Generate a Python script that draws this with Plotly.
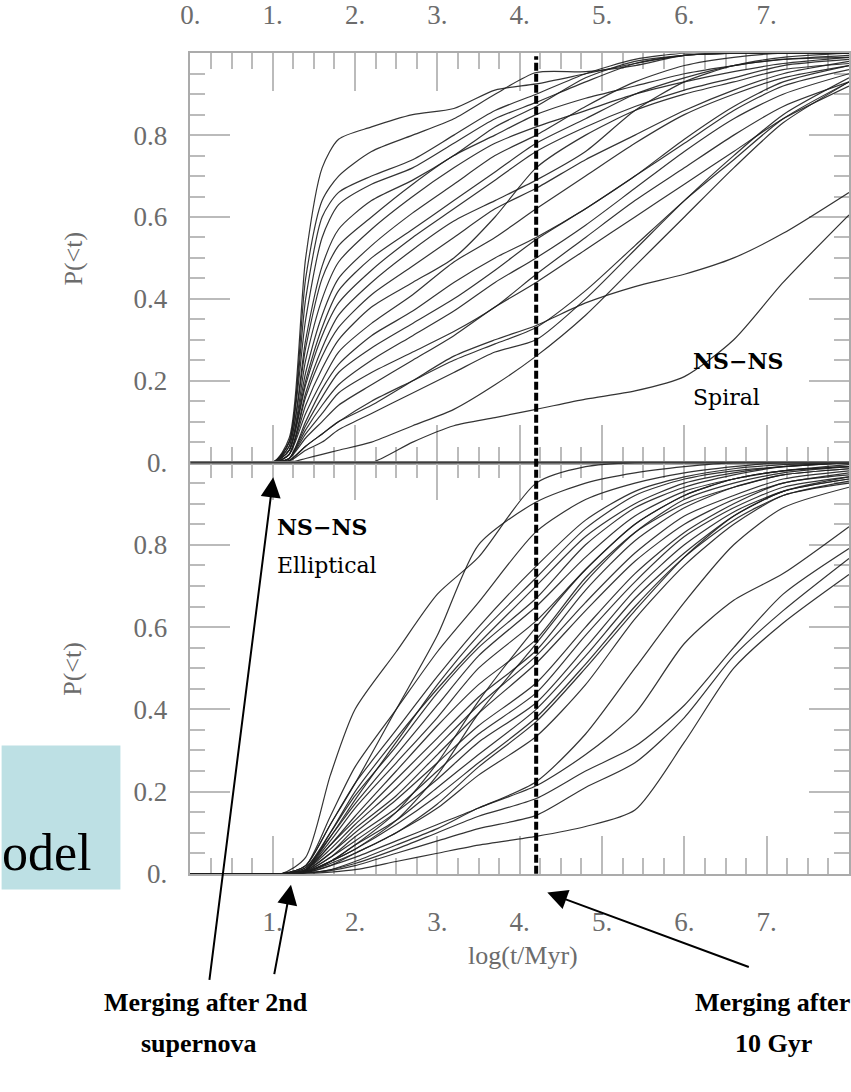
import plotly.graph_objects as go

W, H = 851, 1092

# ---------------------------------------------------------------- data
# cumulative merger-time distributions P(<t) vs log(t/Myr)
x_top = [0, 1.0, 1.2, 1.4, 1.6, 1.8, 2.2, 2.7, 3.2, 3.7, 4.2, 4.8, 5.4, 6.0, 6.6, 7.2, 8.0]
spiral_curves = [
    [0, 0, .06, .50, .72, .79, .82, .85, .865, .91, .925, .95, .975, .995, 1, 1, 1],
    [0, 0, .05, .45, .64, .70, .76, .80, .84, .90, .953, .955, .97, .995, 1, 1, 1],
    [0, 0, .05, .40, .60, .66, .70, .74, .80, .86, .90, .95, .985, 1, 1, 1, 1],
    [0, 0, .05, .35, .55, .63, .68, .72, .78, .84, .88, .93, .975, .995, 1, 1, 1],
    [0, 0, .04, .30, .48, .57, .64, .69, .75, .82, .87, .94, .98, .995, 1, 1, 1],
    [0, 0, .04, .28, .45, .53, .60, .68, .75, .80, .85, .89, .92, .95, .97, .985, .99],
    [0, 0, .03, .25, .40, .49, .57, .65, .72, .78, .82, .86, .90, .93, .955, .975, .99],
    [0, 0, .03, .22, .36, .45, .53, .61, .68, .75, .80, .87, .93, .97, .99, 1, 1],
    [0, 0, .03, .20, .33, .42, .50, .57, .64, .71, .78, .84, .90, .94, .97, .985, .995],
    [0, 0, .03, .19, .31, .39, .47, .55, .62, .69, .76, .82, .87, .91, .94, .97, .985],
    [0, 0, .02, .17, .28, .36, .44, .52, .59, .64, .69, .76, .86, .93, .97, .99, 1],
    [0, 0, .02, .16, .26, .33, .41, .48, .55, .62, .67, .74, .80, .86, .91, .95, .98],
    [0, 0, .02, .14, .23, .30, .38, .44, .50, .60, .72, .80, .86, .90, .93, .96, .975],
    [0, 0, .02, .12, .20, .27, .34, .41, .49, .55, .62, .70, .78, .85, .90, .94, .97],
    [0, 0, .01, .10, .18, .24, .31, .37, .44, .50, .55, .62, .70, .78, .86, .92, .96],
    [0, 0, .01, .09, .16, .22, .28, .34, .40, .47, .545, .62, .70, .79, .87, .93, .97],
    [0, 0, .01, .08, .14, .19, .25, .31, .37, .44, .50, .58, .67, .76, .84, .90, .95],
    [0, 0, .01, .07, .12, .17, .22, .27, .32, .38, .46, .55, .64, .72, .80, .87, .93],
    [0, 0, .01, .06, .10, .14, .19, .25, .31, .38, .44, .52, .60, .68, .76, .84, .92],
    [0, 0, .005, .04, .07, .10, .14, .20, .26, .30, .335, .39, .43, .46, .50, .56, .66],
    [0, 0, .005, .04, .07, .10, .15, .20, .25, .29, .33, .42, .53, .64, .74, .84, .93],
    [0, 0, .003, .03, .05, .08, .12, .17, .22, .27, .30, .40, .52, .64, .75, .85, .94],
    [0, 0, 0, .01, .02, .03, .05, .09, .13, .19, .26, .36, .48, .60, .72, .83, .93],
    [0, 0, 0, 0, 0, 0, 0, .05, .09, .11, .13, .155, .175, .21, .30, .44, .605],
]

x_bottom = [0, 1.1, 1.4, 1.7, 2.0, 2.5, 3.0, 3.5, 4.2, 4.8, 5.4, 6.0, 6.6, 7.2, 8.0]
elliptical_curves = [
    [0, 0, .04, .24, .40, .54, .68, .77, .95, .99, 1, 1, 1, 1, 1],
    [0, 0, .02, .12, .22, .40, .58, .80, .904, .95, .975, .99, 1, 1, 1],
    [0, 0, .02, .14, .26, .40, .54, .66, .832, .91, .95, .975, .99, 1, 1],
    [0, 0, .02, .12, .22, .35, .48, .60, .748, .86, .93, .965, .985, .995, 1],
    [0, 0, .015, .10, .19, .31, .44, .55, .67, .80, .89, .94, .97, .99, 1],
    [0, 0, .015, .09, .17, .29, .41, .53, .65, .77, .87, .93, .96, .98, .995],
    [0, 0, .01, .08, .16, .27, .38, .50, .615, .74, .85, .92, .96, .98, .99],
    [0, 0, .01, .07, .14, .25, .36, .46, .57, .72, .83, .90, .94, .97, .985],
    [0, 0, .01, .07, .13, .23, .33, .43, .543, .69, .81, .89, .94, .97, .985],
    [0, 0, .01, .06, .12, .21, .31, .41, .53, .66, .78, .87, .92, .96, .98],
    [0, 0, .008, .05, .11, .19, .29, .39, .512, .64, .76, .85, .91, .95, .975],
    [0, 0, .008, .05, .10, .18, .27, .36, .464, .60, .73, .83, .90, .95, .97],
    [0, 0, .006, .04, .09, .16, .25, .34, .44, .58, .71, .82, .89, .94, .965],
    [0, 0, .006, .04, .08, .15, .23, .32, .416, .55, .69, .80, .88, .93, .96],
    [0, 0, .005, .03, .07, .13, .21, .29, .40, .53, .67, .78, .87, .93, .96],
    [0, 0, .005, .03, .06, .12, .19, .27, .38, .51, .65, .77, .86, .92, .955],
    [0, 0, .004, .025, .05, .10, .16, .24, .334, .46, .62, .75, .85, .92, .95],
    [0, 0, .004, .03, .07, .15, .27, .42, .60, .74, .85, .92, .96, .98, .99],
    [0, 0, .004, .03, .06, .13, .24, .39, .56, .71, .83, .91, .95, .975, .99],
    [0, 0, .003, .02, .05, .10, .17, .26, .37, .50, .64, .77, .87, .93, .965],
    [0, 0, .003, .02, .04, .08, .12, .16, .224, .34, .50, .66, .80, .89, .94],
    [0, 0, .002, .01, .03, .07, .11, .16, .214, .29, .39, .56, .665, .73, .844],
    [0, 0, .002, .01, .025, .06, .10, .14, .183, .25, .31, .41, .55, .68, .791],
    [0, 0, .002, .008, .02, .05, .08, .11, .142, .21, .27, .38, .53, .64, .767],
    [0, 0, 0, .004, .01, .03, .05, .07, .091, .115, .155, .32, .50, .61, .728],
    [0, 0, .01, .10, .20, .33, .45, .56, .70, .82, .90, .95, .975, .99, 1],
    [0, 0, .01, .09, .18, .32, .46, .58, .72, .84, .92, .96, .98, .99, 1],
]

x_ticks_top = [0, 1, 2, 3, 4, 5, 6, 7, 8]
x_labels_top = ["0.", "1.", "2.", "3.", "4.", "5.", "6.", "7.", "8."]
x_ticks_bottom = [1, 2, 3, 4, 5, 6, 7, 8]
x_labels_bottom = ["1.", "2.", "3.", "4.", "5.", "6.", "7.", "8."]
y_ticks = [0, 0.2, 0.4, 0.6, 0.8]
y_labels = ["0.", "0.2", "0.4", "0.6", "0.8"]
hubble_time_log = 4.2   # log(t/Myr) of the 10 Gyr marker

# ---------------------------------------------------------------- layout helpers
def fx(p):
    return p / W


def fy(p):
    return 1 - p / H


LEFT = 183
TOP, MID, BOT = 54, 469, 886

TICK_FONT = dict(family="Liberation Serif", size=27, color="#6c6c6c")
CURVE = dict(color="rgba(30,30,30,0.9)", width=1.2, shape="spline", smoothing=0.7)

fig = go.Figure()
for c in spiral_curves:
    fig.add_trace(go.Scatter(x=x_top, y=c, mode="lines", line=CURVE,
                             xaxis="x", yaxis="y", hoverinfo="skip", showlegend=False))
for c in elliptical_curves:
    fig.add_trace(go.Scatter(x=x_bottom, y=c, mode="lines", line=CURVE,
                             xaxis="x2", yaxis="y2", hoverinfo="skip", showlegend=False))

axis_style = dict(
    showline=True, linecolor="#ababab", linewidth=1.5, mirror="allticks",
    ticks="inside", tickcolor="#bbbbbb", tickwidth=1.5,
    showgrid=False, zeroline=False, layer="below traces", tickfont=TICK_FONT,
)
x_minor = dict(tickmode="linear", tick0=0, dtick=0.25, ticklen=16, ticks="inside",
               tickcolor="#bbbbbb", tickwidth=1.5, showgrid=False)
y_minor = dict(tickmode="linear", tick0=0, dtick=0.05, ticklen=15, ticks="inside",
               tickcolor="#bbbbbb", tickwidth=1.5, showgrid=False)

fig.update_layout(
    width=W, height=H, margin=dict(l=0, r=0, t=0, b=0),
    paper_bgcolor="white", plot_bgcolor="white", showlegend=False,
    xaxis=dict(axis_style, domain=[fx(LEFT), 1], range=[0, 8], anchor="y", side="top",
               tickmode="array", tickvals=x_ticks_top, ticktext=x_labels_top,
               ticklen=38, minor=x_minor, ticklabelstandoff=17),
    yaxis=dict(axis_style, domain=[fy(MID), fy(TOP)], range=[0, 1], anchor="x",
               tickmode="array", tickvals=y_ticks, ticktext=y_labels,
               ticklen=40, minor=y_minor, ticklabelstandoff=16),
    xaxis2=dict(axis_style, domain=[fx(LEFT), 1], range=[0, 8], anchor="y2", side="bottom",
                tickmode="array", tickvals=x_ticks_bottom, ticktext=x_labels_bottom,
                ticklen=38, minor=x_minor, ticklabelstandoff=23),
    yaxis2=dict(axis_style, domain=[fy(BOT), fy(MID)], range=[0, 1], anchor="x2",
                tickmode="array", tickvals=y_ticks, ticktext=y_labels,
                ticklen=40, minor=y_minor, ticklabelstandoff=16),
)

# slide background box at the left edge
fig.add_shape(type="rect", xref="paper", yref="paper",
              x0=-0.01, x1=fx(112), y0=fy(902), y1=fy(756),
              fillcolor="#bde0e4", line=dict(width=0), layer="below")
# shared boundary between the two panels
fig.add_shape(type="line", xref="paper", yref="paper",
              x0=fx(LEFT), x1=1, y0=fy(MID), y1=fy(MID),
              line=dict(color="#3c3c3c", width=2))
# 10 Gyr marker
fig.add_shape(type="line", xref="x", yref="paper",
              x0=hubble_time_log, x1=hubble_time_log, y0=fy(BOT), y1=fy(TOP + 3),
              line=dict(color="black", width=4, dash="8px,3px"))

ann = []
axis_title = dict(family="Liberation Serif", size=26, color="#6c6c6c")
ann.append(dict(text="P(<t)", x=fx(64), y=fy(262), textangle=-90, font=axis_title))
ann.append(dict(text="P(<t)", x=fx(64), y=fy(678), textangle=-90, font=axis_title))
ann.append(dict(text="log(t/Myr)", x=fx(520), y=fy(969), font=axis_title))

label_bold = dict(family="DejaVu Serif", size=22, color="black")
label_reg = dict(family="DejaVu Serif", size=22, color="black")
ann.append(dict(text="<b>NS\u2212NS</b>", x=fx(691), y=fy(366), xanchor="left", font=label_bold))
ann.append(dict(text="Spiral", x=fx(691), y=fy(403), xanchor="left", font=label_reg))
ann.append(dict(text="<b>NS\u2212NS</b>", x=fx(269), y=fy(534), xanchor="left", font=label_bold))
ann.append(dict(text="Elliptical", x=fx(269), y=fy(573), xanchor="left", font=label_reg))

# partly visible slide caption at the left edge
ann.append(dict(text="odel", x=fx(-10), y=fy(864), xanchor="left",
                font=dict(family="Liberation Serif", size=52, color="black")))

slide_font = dict(family="Liberation Serif", size=26, color="black")
ann.append(dict(text="<b>Merging after 2nd</b>", x=fx(199), y=fy(1016), font=slide_font))
ann.append(dict(text="<b>supernova</b>", x=fx(192), y=fy(1058), font=slide_font))
ann.append(dict(text="<b>Merging after</b>", x=fx(773), y=fy(1016), font=slide_font))
ann.append(dict(text="<b>10 Gyr</b>", x=fx(774), y=fy(1058), font=slide_font))

for a in ann:
    a.update(xref="paper", yref="paper", showarrow=False)
    a.setdefault("xanchor", "center")
    a.setdefault("yanchor", "middle")

# arrows: (tip, tail) in page pixels
arrows = [((267, 484), (203, 988)), ((285, 897), (268, 988)), ((545, 905), (748, 980))]
for (tx, ty), (sx, sy) in arrows:
    ann.append(dict(text="", xref="paper", yref="paper", x=fx(tx), y=fy(ty),
                    ax=sx - tx, ay=sy - ty, showarrow=True, arrowhead=2,
                    arrowsize=2.0, arrowwidth=2, arrowcolor="black"))

fig.update_layout(annotations=ann)
fig.write_html("out.html")
